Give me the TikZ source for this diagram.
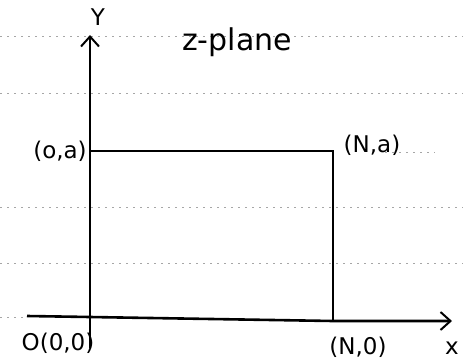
\documentclass[tikz,border=0pt]{standalone}
\usetikzlibrary{arrows.meta}
\usepackage{fontspec}
\setmainfont{DejaVu Sans}
\begin{document}
\begin{tikzpicture}[x=1pt,y=-1pt,
  axis/.style={line width=2.6pt,->,>={Straight Barb[length=10pt,width=18pt,line width=2pt]}},
  edge/.style={line width=2.6pt},
  ruled/.style={gray!70,line width=0.7pt,dash pattern=on 2pt off 5pt},
  lbl/.style={font=\fontsize{23}{26}\selectfont,inner sep=0pt}]
\useasboundingbox (0,0) rectangle (463,362);
\fill[white] (0,0) rectangle (463,362);
% ruled lines
\foreach \yy in {36,93,207,263}{\draw[ruled] (0,\yy) -- (463,\yy);}
\draw[ruled] (385,152) -- (435,152);
\draw[ruled] (0,317) -- (27,317);
% points
\coordinate (O) at (90,317);
\coordinate (Ytop) at (90,35);
\coordinate (Ybot) at (90,348);
\coordinate (Xl) at (27,316);
\coordinate (Xr) at (452,321);
\coordinate (A) at (90,151);
\coordinate (NA) at (333,151);
\coordinate (N0) at (333,321);
% axes
\draw[axis] (Ybot) -- (Ytop);
\draw[axis] (Xl) -- (O) -- (N0) -- (Xr);
% rectangle
\draw[edge] (A) -- (NA) -- (N0);
% labels
\node[lbl] (ylab) at (98,17) {Y};
\node[lbl,font=\fontsize{30}{34}\selectfont] (zp) at (237,42) {z-plane};
\node[lbl] (la) at (60,151) {(o,a)};
\node[lbl] (lna) at (372,145) {(N,a)};
\node[lbl] (lo) at (58,343) {O(0,0)};
\node[lbl] (ln0) at (358,347) {(N,0)};
\node[lbl] (xlab) at (452,348) {x};
\end{tikzpicture}
\end{document}
